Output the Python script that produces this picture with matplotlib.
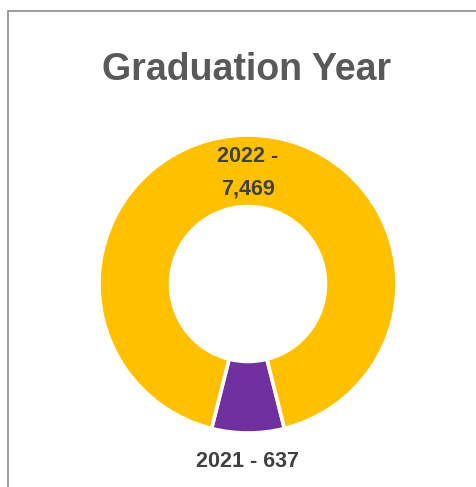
import matplotlib.pyplot as plt
from matplotlib.patches import Rectangle

years = ["2021", "2022"]
counts = [637, 7469]
colors = ["#7030A0", "#FFC000"]

# figure in pixels: 477 x 487, donut centre at (248, 284), radius 149 px
W, H = 477, 487
cx, cy, r = 248, 284, 149

fig = plt.figure(figsize=(W / 100, H / 100), dpi=100)
ax = fig.add_axes([0, 0, 1, 1])

share = counts[0] / sum(counts) * 360
ax.pie(counts, colors=colors, startangle=270 - share / 2, counterclock=True,
       wedgeprops=dict(width=0.48, edgecolor="white", linewidth=2.6))

ax.set_xlim(-cx / r, (W - cx) / r)
ax.set_ylim(-(H - cy) / r, cy / r)
ax.set_aspect("equal")
ax.axis("off")

lab_font = dict(family="Liberation Sans", fontsize=15.5, fontweight="bold",
                color="#404040", ha="center", va="center")
ax.text(0, 0.745, f"{years[1]} -\n{counts[1]:,}", linespacing=1.75, **lab_font)
ax.text(0, -1.19, f"{years[0]} - {counts[0]:,}", **lab_font)

fig.text(247 / W, 1 - 70 / H, "Graduation Year", family="Liberation Sans",
         fontsize=27, fontweight="bold", color="#595959", ha="center", va="center")

# chart border (runs off the right and bottom edges)
fig.patches.append(Rectangle((8.5 / W, -0.1), 1.2, 1.1 - 10.5 / H,
                             transform=fig.transFigure, fill=False,
                             edgecolor="#8c8c8c", linewidth=1.2))

fig.savefig("out.png", dpi=100)
